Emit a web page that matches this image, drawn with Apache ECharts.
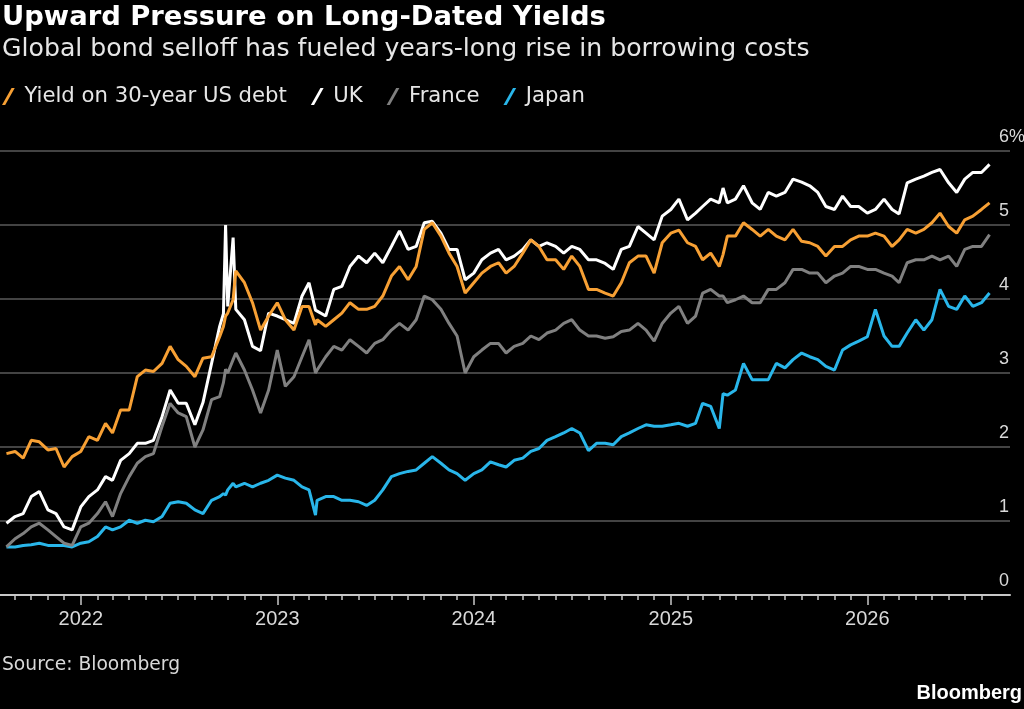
<!DOCTYPE html>
<html>
<head>
<meta charset="utf-8">
<script src="https://cdn.jsdelivr.net/npm/echarts@6/dist/echarts.min.js"></script>
<style>
html,body{margin:0;padding:0;background:#000;}
#chart{width:1024px;height:709px;}
</style>
</head>
<body>
<div id="chart"></div>
<script>
const dates = [
'2021-08-16','2021-09-01','2021-09-16','2021-10-01','2021-10-16','2021-11-01','2021-11-16','2021-12-01','2021-12-16',
'2022-01-01','2022-01-16','2022-02-01','2022-02-16','2022-03-01','2022-03-16','2022-04-01','2022-04-16','2022-05-01','2022-05-16','2022-06-01','2022-06-16','2022-07-01','2022-07-16','2022-08-01','2022-08-16','2022-09-01','2022-09-16',
'2022-09-23','2022-09-27','2022-10-01','2022-10-11','2022-10-16','2022-11-01','2022-11-16','2022-12-01','2022-12-16',
'2023-01-01','2023-01-16','2023-02-01','2023-02-16','2023-03-01','2023-03-13','2023-03-16','2023-04-01','2023-04-16','2023-05-01','2023-05-16','2023-06-01','2023-06-16','2023-07-01','2023-07-16','2023-08-01','2023-08-16','2023-09-01','2023-09-16','2023-10-01','2023-10-16','2023-11-01','2023-11-16','2023-12-01','2023-12-16',
'2024-01-01','2024-01-16','2024-02-01','2024-02-16','2024-03-01','2024-03-16','2024-04-01','2024-04-16','2024-05-01','2024-05-16','2024-06-01','2024-06-16','2024-07-01','2024-07-16','2024-08-01','2024-08-16','2024-09-01','2024-09-16','2024-10-01','2024-10-16','2024-11-01','2024-11-16','2024-12-01','2024-12-16',
'2025-01-01','2025-01-16','2025-02-01','2025-02-16','2025-03-01','2025-03-16','2025-04-01','2025-04-08','2025-04-16','2025-05-01','2025-05-16','2025-06-01','2025-06-16','2025-07-01','2025-07-16','2025-08-01','2025-08-16','2025-09-01','2025-09-16','2025-10-01','2025-10-16','2025-11-01','2025-11-16','2025-12-01','2025-12-16',
'2026-01-01','2026-01-16','2026-02-01','2026-02-16','2026-03-01','2026-03-16','2026-04-01','2026-04-16','2026-05-01','2026-05-16','2026-06-01','2026-06-16','2026-07-01','2026-07-16','2026-08-01','2026-08-16'
];

const usYield = [
1.91,1.94,1.85,2.09,2.07,1.96,1.98,1.73,1.87,
1.94,2.14,2.09,2.32,2.19,2.50,2.50,2.95,3.04,3.02,3.13,3.36,3.18,3.09,2.95,3.20,3.22,3.49,
3.63,3.77,3.81,3.99,4.38,4.22,3.95,3.58,3.77,
3.95,3.72,3.58,3.90,3.90,3.65,3.72,3.63,3.72,3.81,3.95,3.86,3.86,3.90,4.04,4.31,4.44,4.26,4.44,4.94,5.03,4.85,4.62,4.44,4.08,
4.22,4.35,4.44,4.49,4.35,4.44,4.62,4.80,4.71,4.53,4.53,4.40,4.58,4.44,4.13,4.13,4.08,4.04,4.22,4.49,4.58,4.58,4.35,4.76,
4.89,4.93,4.76,4.71,4.53,4.62,4.44,4.60,4.85,4.85,5.03,4.94,4.85,4.94,4.85,4.80,4.94,4.78,4.76,4.71,4.58,4.71,4.71,4.80,
4.85,4.85,4.89,4.85,4.71,4.80,4.94,4.89,4.94,5.03,5.16,4.98,4.89,5.07,5.12,5.21,5.30
];

const ukYield = [
0.97,1.06,1.10,1.33,1.40,1.15,1.10,0.92,0.88,
1.19,1.33,1.42,1.60,1.55,1.82,1.91,2.05,2.05,2.09,2.41,2.77,2.59,2.59,2.30,2.60,3.13,3.63,
3.80,5.00,3.90,4.83,3.86,3.72,3.36,3.30,3.81,
3.77,3.72,3.67,4.04,4.22,3.85,3.86,3.77,4.13,4.17,4.44,4.58,4.49,4.62,4.49,4.71,4.92,4.67,4.71,5.03,5.05,4.89,4.67,4.67,4.26,
4.35,4.53,4.62,4.67,4.53,4.58,4.67,4.80,4.71,4.76,4.71,4.62,4.71,4.67,4.53,4.53,4.48,4.40,4.67,4.71,4.98,4.89,4.80,5.12,
5.21,5.35,5.07,5.16,5.25,5.35,5.30,5.50,5.30,5.35,5.53,5.30,5.21,5.44,5.39,5.44,5.62,5.58,5.53,5.44,5.25,5.21,5.39,5.25,
5.25,5.16,5.21,5.35,5.21,5.15,5.57,5.62,5.66,5.71,5.75,5.57,5.44,5.62,5.71,5.71,5.82
];

const franceYield = [
0.65,0.76,0.83,0.92,0.97,0.88,0.79,0.70,0.67,
0.92,0.97,1.10,1.26,1.06,1.37,1.60,1.78,1.87,1.91,2.28,2.59,2.46,2.41,2.00,2.23,2.64,2.68,
2.87,3.05,3.00,3.18,3.27,3.04,2.77,2.46,2.77,
3.31,2.82,2.95,3.22,3.45,3.00,3.04,3.22,3.36,3.31,3.45,3.36,3.27,3.40,3.45,3.58,3.67,3.58,3.72,4.04,3.99,3.86,3.67,3.50,3.00,
3.22,3.31,3.40,3.40,3.27,3.36,3.40,3.50,3.45,3.54,3.58,3.67,3.72,3.58,3.50,3.50,3.47,3.49,3.56,3.58,3.67,3.58,3.43,3.67,
3.81,3.90,3.67,3.77,4.08,4.13,4.04,4.04,3.95,3.99,4.04,3.95,3.95,4.13,4.13,4.22,4.40,4.40,4.35,4.35,4.22,4.31,4.35,4.44,
4.44,4.40,4.40,4.35,4.31,4.22,4.49,4.53,4.53,4.58,4.53,4.58,4.44,4.67,4.71,4.71,4.87
];

const japanYield = [
0.65,0.65,0.67,0.68,0.70,0.67,0.67,0.67,0.65,
0.70,0.72,0.79,0.92,0.88,0.92,1.01,0.97,1.01,0.99,1.06,1.24,1.26,1.24,1.15,1.10,1.28,1.33,
1.37,1.35,1.42,1.51,1.46,1.51,1.46,1.51,1.55,
1.62,1.58,1.55,1.46,1.42,1.08,1.28,1.33,1.33,1.28,1.28,1.26,1.21,1.28,1.42,1.60,1.64,1.67,1.69,1.78,1.87,1.78,1.69,1.64,1.55,
1.64,1.69,1.80,1.76,1.73,1.82,1.85,1.94,1.98,2.09,2.14,2.19,2.25,2.19,1.95,2.05,2.05,2.03,2.14,2.19,2.25,2.30,2.28,2.28,
2.30,2.32,2.28,2.32,2.59,2.55,2.25,2.72,2.70,2.77,3.13,2.91,2.91,2.91,3.13,3.07,3.18,3.27,3.22,3.18,3.09,3.04,3.31,3.38,
3.43,3.49,3.86,3.50,3.36,3.36,3.54,3.72,3.58,3.72,4.13,3.90,3.86,4.04,3.90,3.95,4.08
];

const seriesNames = ['Yield on 30-year US debt', 'UK', 'France', 'Japan'];
const seriesColors = ['#f7a034', '#ffffff', '#808080', '#29b6ea'];
const yearTicks = ['2022-01-01', '2023-01-01', '2024-01-01', '2025-01-01', '2026-01-01'];
const yTickLabels = ['0', '1', '2', '3', '4', '5', '6%'];

const toTs = d => +new Date(d + 'T00:00:00');
const monthTicks = [];
for (let y = 2021; y <= 2026; y++) {
  for (let m = 1; m <= 12; m++) {
    if (y === 2021 && m < 9) continue;
    if (y === 2026 && m > 8) continue;
    monthTicks.push(+new Date(y, m - 1, 1));
  }
}
const yearTickTs = yearTicks.map(toTs);
const xMin = toTs('2021-08-04');
const xMax = toTs('2026-09-23');

const allValues = [usYield, ukYield, franceYield, japanYield];
const FONT = "'Liberation Sans', Arial, sans-serif";
const WIDE = "'DejaVu Sans', 'Liberation Sans', sans-serif";

const chart = echarts.init(document.getElementById('chart'), null, {renderer: 'canvas'});
chart.setOption({
  backgroundColor: '#000',
  animation: false,
  textStyle: {fontFamily: FONT},
  title: [
    {text: 'Upward Pressure on Long-Dated Yields', left: 2, top: 4, padding: 0,
     textStyle: {fontSize: 27.4, fontWeight: 'bold', color: '#ffffff', fontFamily: WIDE}},
    {text: 'Global bond selloff has fueled years-long rise in borrowing costs', left: 2, top: 37, padding: 0,
     textStyle: {fontSize: 25.2, fontWeight: 'normal', color: '#e6e6e6', fontFamily: WIDE}},
    {text: 'Source: Bloomberg', left: 2, top: 656, padding: 0,
     textStyle: {fontSize: 18.7, fontWeight: 'normal', color: '#d9d9d9', fontFamily: WIDE}},
    {text: 'Bloomberg', right: 2, top: 683, padding: 0,
     textStyle: {fontSize: 20, fontWeight: 'bold', color: '#ffffff', fontFamily: FONT}}
  ],
  legend: {
    data: seriesNames,
    left: 2, top: 86, padding: 0,
    icon: 'path://M0,16 L9,0 L12,0 L3,16 Z',
    itemWidth: 14, itemHeight: 17, itemGap: 24,
    textStyle: {color: '#e6e6e6', fontSize: 21.2, fontFamily: WIDE, padding: [0, 0, 0, 4]},
    selectedMode: false
  },
  grid: {left: 0, right: 14, top: 151, bottom: 114, containLabel: false, outerBoundsMode: 'none'},
  xAxis: [
    {
      type: 'value', min: xMin, max: xMax, position: 'bottom',
      axisLine: {onZero: false, lineStyle: {color: '#c8c8c8', width: 2}},
      axisTick: {customValues: yearTickTs, length: 10, lineStyle: {color: '#c8c8c8', width: 1.5}},
      axisLabel: {customValues: yearTickTs, formatter: v => String(new Date(v).getFullYear()),
                  color: '#d9d9d9', fontSize: 20, margin: 14, fontFamily: FONT},
      splitLine: {show: false}
    },
    {
      type: 'value', min: xMin, max: xMax, position: 'bottom', gridIndex: 0,
      axisLine: {show: false, onZero: false},
      axisTick: {customValues: monthTicks, length: 5, lineStyle: {color: '#c8c8c8', width: 1.5}},
      axisLabel: {show: false},
      splitLine: {show: false}
    }
  ],
  yAxis: {
    type: 'value', min: 0, max: 6, interval: 1, position: 'right',
    axisLine: {show: false}, axisTick: {show: false},
    splitLine: {lineStyle: {color: '#5a5a5a', width: 1.5}},
    axisLabel: {
      margin: -11, align: 'left', verticalAlign: 'bottom', padding: [0, 0, 5, 0],
      fontSize: 18, color: '#d9d9d9', fontFamily: FONT,
      formatter: v => yTickLabels[Math.round(v)]
    }
  },
  series: seriesNames.map((name, k) => ({
    name: name,
    type: 'line',
    xAxisIndex: 0,
    showSymbol: false,
    symbol: 'none',
    z: [5, 4, 3, 2][k],
    color: seriesColors[k],
    lineStyle: {color: seriesColors[k], width: 3},
    data: dates.map((d, i) => [toTs(d), allValues[k][i]])
  }))
});
</script>
</body>
</html>
